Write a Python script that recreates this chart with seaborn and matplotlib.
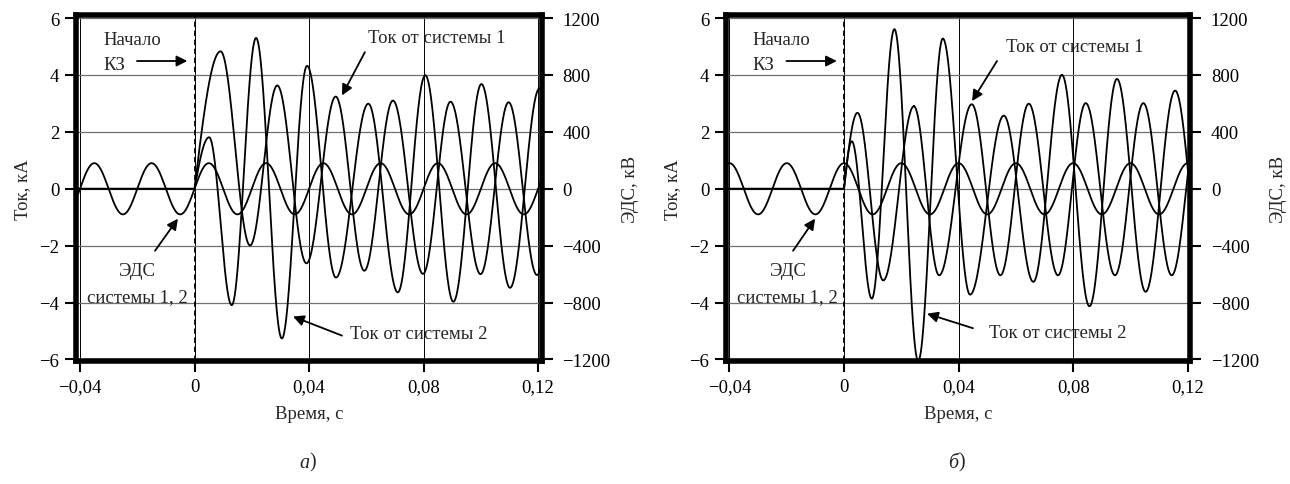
import numpy as np
import pandas as pd
import matplotlib
matplotlib.use("Agg")
import matplotlib.pyplot as plt
import seaborn as sns

# ---------------- data ----------------
# EMF extrema (kV), panel a (sine) and panel b (cosine)
t_emf_a = [-0.045, -0.035, -0.025, -0.015, -0.005, 0.005, 0.015, 0.025, 0.035,
           0.045, 0.055, 0.065, 0.075, 0.085, 0.095, 0.105, 0.115, 0.125]
emf_a = [-180, 180, -180, 180, -180, 180, -180, 180, -180,
         180, -180, 180, -180, 180, -180, 180, -180, 180]
t_emf_b = [-0.05, -0.04, -0.03, -0.02, -0.01, 0.0, 0.01, 0.02, 0.03, 0.04,
           0.05, 0.06, 0.07, 0.08, 0.09, 0.10, 0.11, 0.12, 0.13]
emf_b = [-180, 180, -180, 180, -180, 180, -180, 180, -180, 180,
         -180, 180, -180, 180, -180, 180, -180, 180, -180]

# current extrema (kA)
t_i1_a = [-0.045, 0.0, 0.0091, 0.0194, 0.0289, 0.0391, 0.0493, 0.0593, 0.0693,
          0.0798, 0.0894, 0.0999, 0.1097, 0.1196, 0.1296]
i1_a = [0, 0, 4.83, -1.99, 3.63, -2.62, 3.24, -2.88, 3.10,
        -2.99, 3.06, -3.00, 3.04, -3.03, 3.04]
t_i2_a = [-0.045, 0.0, 0.0051, 0.0130, 0.0215, 0.0305, 0.0393, 0.0494, 0.0607,
          0.0710, 0.0806, 0.0904, 0.1002, 0.1102, 0.1205, 0.1305]
i2_a = [0, 0, 1.81, -4.09, 5.30, -5.26, 4.32, -3.12, 2.99,
        -3.64, 3.99, -3.97, 3.68, -3.48, 3.53, -3.30]

t_i1_b = [-0.045, 0.0, 0.0047, 0.0137, 0.0244, 0.0332, 0.0446, 0.0546, 0.0645,
          0.0747, 0.0844, 0.0946, 0.1045, 0.1144, 0.1245]
i1_b = [0, 0, 2.67, -3.22, 2.90, -3.04, 2.97, -3.04, 2.99,
        -3.04, 3.01, -3.04, 3.01, -3.04, 3.00]
t_i2_b = [-0.045, 0.0, 0.0027, 0.0097, 0.0176, 0.0259, 0.0345, 0.0440, 0.0558,
          0.0661, 0.0761, 0.0857, 0.0953, 0.1053, 0.1156, 0.1256]
i2_b = [0, 0, 1.67, -3.86, 5.61, -6.05, 5.28, -3.72, 2.57,
        -3.27, 4.00, -4.13, 3.86, -3.62, 3.45, -3.30]

x_ticks = [-0.04, 0.0, 0.04, 0.08, 0.12]
x_tick_labels = ["\u22120,04", "0", "0,04", "0,08", "0,12"]
y_ticks = [-6, -4, -2, 0, 2, 4, 6]
y_tick_labels = ["\u22126", "\u22124", "\u22122", "0", "2", "4", "6"]
y2_ticks = [-1200, -800, -400, 0, 400, 800, 1200]
y2_tick_labels = ["\u22121200", "\u2212800", "\u2212400", "0", "400", "800", "1200"]


def smooth(ts, vs, n=60):
    """Smooth line through the read extrema (half-wave shape between them)."""
    tt, vv = [], []
    for i in range(len(ts) - 1):
        u = np.linspace(0, 1, n)
        t = ts[i] + (ts[i + 1] - ts[i]) * u
        if vs[i] == 0 and vs[i + 1] != 0:
            v = vs[i + 1] * np.sin(np.pi / 2 * u)
        else:
            v = (vs[i] + vs[i + 1]) / 2 + (vs[i] - vs[i + 1]) / 2 * np.cos(np.pi * u)
        tt.append(t)
        vv.append(v)
    return pd.DataFrame({"t": np.concatenate(tt), "v": np.concatenate(vv)})


sns.set_theme(style="ticks")
plt.rcParams["font.family"] = ["Liberation Serif", "DejaVu Serif"]
plt.rcParams["axes.unicode_minus"] = True

FS = 13.5
fig = plt.figure(figsize=(12.9, 4.85), dpi=100)

panels = [
    dict(rect=[0.0589, 0.2526, 0.3609, 0.7134], xlim=(-0.0414, 0.1212),
         emf=(t_emf_a, emf_a), i1=(t_i1_a, i1_a), i2=(t_i2_a, i2_a),
         cap="а",
         emf_arrow=((-0.0138, -2.18), (-0.0058, -1.05)), emf_text=-0.0200,
         i1_text=(0.0845, 5.33), i1_arrow=((0.0595, 4.80), (0.0515, 3.28)),
         i2_text=(0.0784, -5.09), i2_arrow=((0.0515, -5.16), (0.0344, -4.49))),
    dict(rect=[0.5628, 0.2526, 0.3597, 0.7134], xlim=(-0.0412, 0.1208),
         emf=(t_emf_b, emf_b), i1=(t_i1_b, i1_b), i2=(t_i2_b, i2_b),
         cap="б",
         emf_arrow=((-0.0178, -2.18), (-0.0101, -1.05)), emf_text=-0.0197,
         i1_text=(0.0807, 5.00), i1_arrow=((0.0534, 4.49), (0.0447, 3.08)),
         i2_text=(0.0747, -5.05), i2_arrow=((0.0450, -4.90), (0.0290, -4.39))),
]

arrowprops = dict(arrowstyle="-|>", color="black", lw=1.3, mutation_scale=16,
                  shrinkA=0, shrinkB=0)

for p in panels:
    ax = fig.add_axes(p["rect"])
    ax2 = ax.twinx()
    ax.set_xlim(*p["xlim"])
    ax.set_ylim(-6.07, 6.09)
    ax2.set_ylim(-6.07 * 200, 6.09 * 200)

    # grid
    for xt in x_ticks:
        ax.axvline(xt, color="black", lw=0.7, zorder=0.5)
    for yt in y_ticks:
        ax.axhline(yt, color="#707070", lw=0.9, zorder=0.5)
    ax.axvline(0.0, color="black", lw=1.3, ls=(0, (3, 2)), zorder=0.6)

    # curves
    for key in ("i1", "i2"):
        df = smooth(*p[key])
        sns.lineplot(data=df, x="t", y="v", ax=ax, color="black", lw=1.3,
                     sort=False, estimator=None)
    df = smooth(*p["emf"])
    sns.lineplot(data=df, x="t", y="v", ax=ax2, color="black", lw=1.3,
                 sort=False, estimator=None)

    # axes style
    ax.set_xticks(x_ticks)
    ax.set_xticklabels(x_tick_labels)
    ax.set_yticks(y_ticks)
    ax.set_yticklabels(y_tick_labels)
    ax2.set_yticks(y2_ticks)
    ax2.set_yticklabels(y2_tick_labels)
    ax.tick_params(direction="out", length=8, width=1.5, labelsize=FS,
                   colors="black", pad=4, right=False, top=False)
    ax2.tick_params(direction="out", length=8, width=1.5, labelsize=FS,
                    colors="black", pad=7)
    for s in ax.spines.values():
        s.set_linewidth(4.0)
        s.set_color("black")
        s.set_visible(True)
    for s in ax2.spines.values():
        s.set_visible(False)

    ax.set_xlabel("Время, с", fontsize=FS, labelpad=7)
    ax.set_ylabel("Ток, кА", fontsize=FS, labelpad=6)
    ax2.set_ylabel("ЭДС, кВ", fontsize=FS, labelpad=8)

    # annotations
    ax.text(-0.0319, 5.26, "Начало", fontsize=FS, ha="left", va="center")
    ax.text(-0.0319, 4.35, "КЗ", fontsize=FS, ha="left", va="center")
    ax.annotate("", xy=(-0.0025, 4.49), xytext=(-0.0201, 4.49),
                arrowprops=arrowprops)

    ax.text(p["emf_text"], -2.87, "ЭДС", fontsize=FS, ha="center", va="center")
    ax.text(p["emf_text"], -3.80, "системы 1, 2", fontsize=FS, ha="center",
            va="center")
    ax.annotate("", xy=p["emf_arrow"][1], xytext=p["emf_arrow"][0],
                arrowprops=arrowprops)

    ax.text(*p["i1_text"], "Ток от системы 1", fontsize=FS, ha="center",
            va="center")
    ax.annotate("", xy=p["i1_arrow"][1], xytext=p["i1_arrow"][0],
                arrowprops=arrowprops)
    ax.text(*p["i2_text"], "Ток от системы 2", fontsize=FS, ha="center",
            va="center")
    ax.annotate("", xy=p["i2_arrow"][1], xytext=p["i2_arrow"][0],
                arrowprops=arrowprops)

    # panel caption
    xc = ax.transData.transform((0.04, 0))[0] / fig.bbox.width
    fig.text(xc, 0.045, p["cap"], fontsize=14.5, style="italic", ha="right",
             va="center")
    fig.text(xc, 0.045, ")", fontsize=14.5, ha="left", va="center")

fig.savefig("out.png", dpi=100, facecolor="white")
